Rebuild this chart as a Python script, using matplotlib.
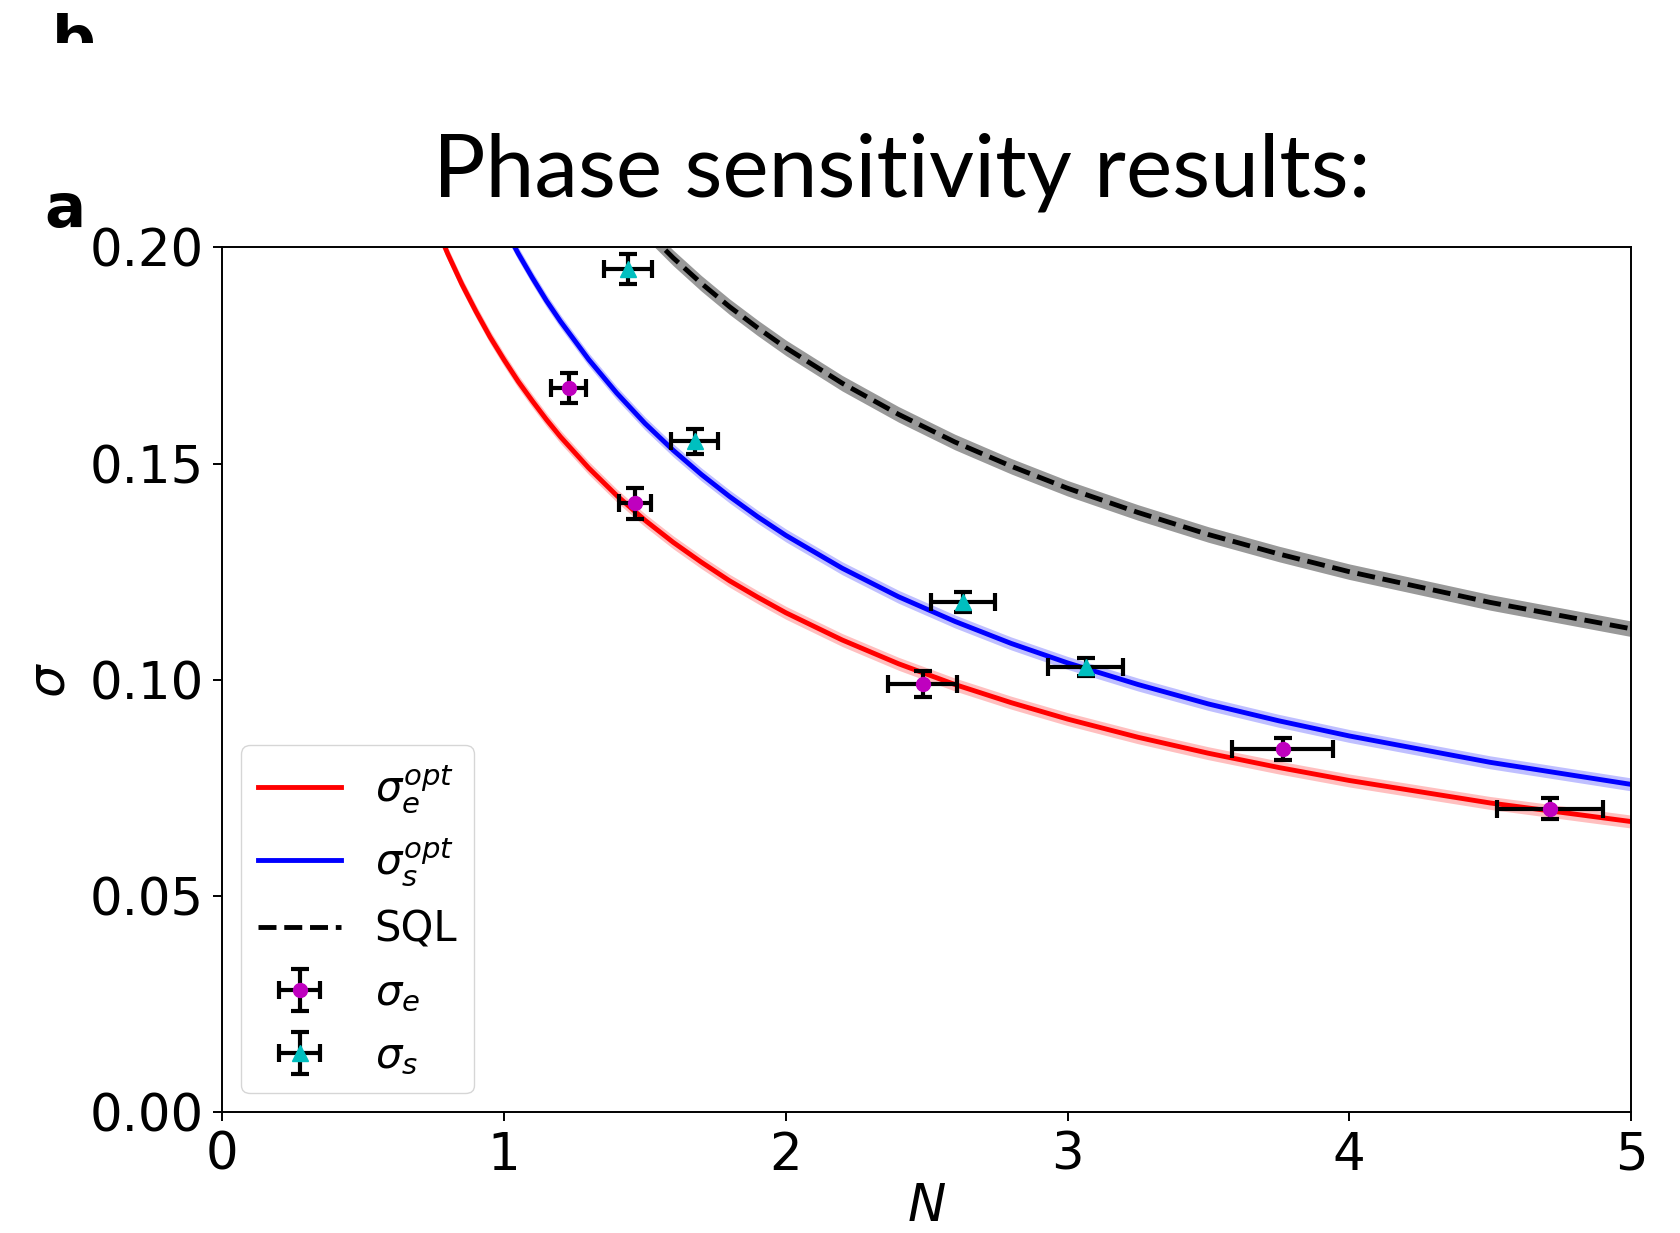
import matplotlib
matplotlib.use("Agg")
import matplotlib.pyplot as plt
import numpy as np
from matplotlib.patches import Rectangle

# measured points
N_e = [1.230, 1.465, 2.486, 3.764, 4.712]
sig_e = [0.1675, 0.1408, 0.0990, 0.0840, 0.0702]
N_e_err = [0.062, 0.058, 0.123, 0.180, 0.189]
sig_e_err = [0.0035, 0.0035, 0.0031, 0.0025, 0.0024]

N_s = [1.440, 1.677, 2.630, 3.065]
sig_s = [0.1950, 0.1552, 0.1180, 0.1030]
N_s_err = [0.084, 0.083, 0.114, 0.133]
sig_s_err = [0.0035, 0.0029, 0.0023, 0.0021]

# theory curves
N_fit = [0.75, 0.8, 0.85, 0.9, 0.95, 1.0, 1.05, 1.1, 1.15, 1.2, 1.3, 1.4,
         1.5, 1.6, 1.7, 1.8, 1.9, 2.0, 2.2, 2.4, 2.6, 2.8, 3.0, 3.25, 3.5,
         3.75, 4.0, 4.5, 5.0]
sig_e_opt = [0.2062, 0.1985, 0.1915, 0.1852, 0.1793, 0.1740, 0.1690, 0.1645,
             0.1602, 0.1562, 0.1490, 0.1426, 0.1369, 0.1318, 0.1272, 0.1229,
             0.1191, 0.1155, 0.1092, 0.1037, 0.0989, 0.0947, 0.0909, 0.0867,
             0.0830, 0.0797, 0.0767, 0.0715, 0.0672]
sig_s_opt = [0.2445, 0.2349, 0.2263, 0.2184, 0.2113, 0.2047, 0.1986, 0.1930,
             0.1877, 0.1829, 0.1741, 0.1663, 0.1593, 0.1531, 0.1475, 0.1424,
             0.1377, 0.1334, 0.1258, 0.1192, 0.1135, 0.1084, 0.1039, 0.0989,
             0.0944, 0.0905, 0.0870, 0.0809, 0.0758]
sig_sql = [0.2887, 0.2795, 0.2712, 0.2635, 0.2565, 0.2500, 0.2440, 0.2384,
           0.2331, 0.2282, 0.2193, 0.2113, 0.2041, 0.1976, 0.1917, 0.1863,
           0.1814, 0.1768, 0.1686, 0.1614, 0.1550, 0.1494, 0.1443, 0.1387,
           0.1336, 0.1291, 0.1250, 0.1179, 0.1118]
band_e = 0.0015
band_s = 0.0015
band_sql = 0.0018

plt.rcParams['font.family'] = 'DejaVu Sans'

fig = plt.figure(figsize=(16.8, 12.33), dpi=100)
ax = fig.add_axes([0.1324, 0.0981, 0.9708 - 0.1324, 0.7993 - 0.0981])

N = np.array(N_fit)
e = np.array(sig_e_opt)
s = np.array(sig_s_opt)
q = np.array(sig_sql)

ax.fill_between(N, e - band_e, e + band_e, color='r', alpha=0.25, lw=0)
ax.fill_between(N, s - band_s, s + band_s, color='b', alpha=0.25, lw=0)
ax.fill_between(N, q - band_sql, q + band_sql, color='k', alpha=0.4, lw=0)
ax.plot(N, e, 'r-', lw=3.5, label=r'$\sigma_e^{opt}$')
ax.plot(N, s, 'b-', lw=3.5, label=r'$\sigma_s^{opt}$')
ax.plot(N, q, 'k--', lw=3.5, label='SQL')

ax.errorbar(N_e, sig_e, xerr=N_e_err, yerr=sig_e_err, fmt='o', color='m',
            ecolor='k', elinewidth=3, capsize=6.5, capthick=3, ms=10,
            label=r'$\sigma_e$')
ax.errorbar(N_s, sig_s, xerr=N_s_err, yerr=sig_s_err, fmt='^', color='c',
            ecolor='k', elinewidth=3, capsize=6.5, capthick=3, ms=11,
            label=r'$\sigma_s$')

ax.set_xlim(0, 5)
ax.set_ylim(0, 0.2)
ax.set_xticks([0, 1, 2, 3, 4, 5])
ax.set_yticks([0, 0.05, 0.10, 0.15, 0.20])
ax.set_yticklabels(['0.00', '0.05', '0.10', '0.15', '0.20'])
ax.tick_params(labelsize=37, length=6.5, width=1.4, pad=7)
for sp in ax.spines.values():
    sp.set_linewidth(1.4)
ax.set_xlabel(r'$N$', fontsize=37, labelpad=1)
ax.set_ylabel(r'$\sigma$', fontsize=37, labelpad=10)

ax.legend(loc='lower left', fontsize=30, borderaxespad=0.45)

fig.text(0.537, 0.841, 'Phase sensitivity results:', family='Lato',
         fontsize=63, ha='center', va='baseline')
fig.text(0.0267, 0.816, 'a', fontsize=44, fontweight='bold', va='baseline')
fig.text(0.0307, 0.952, 'b', fontsize=44, fontweight='bold', va='baseline')
fig.patches.append(Rectangle((0.015, 0.90), 0.06, 0.0651, transform=fig.transFigure,
                             facecolor='white', edgecolor='none', zorder=10))

fig.savefig('out.png', dpi=100)
